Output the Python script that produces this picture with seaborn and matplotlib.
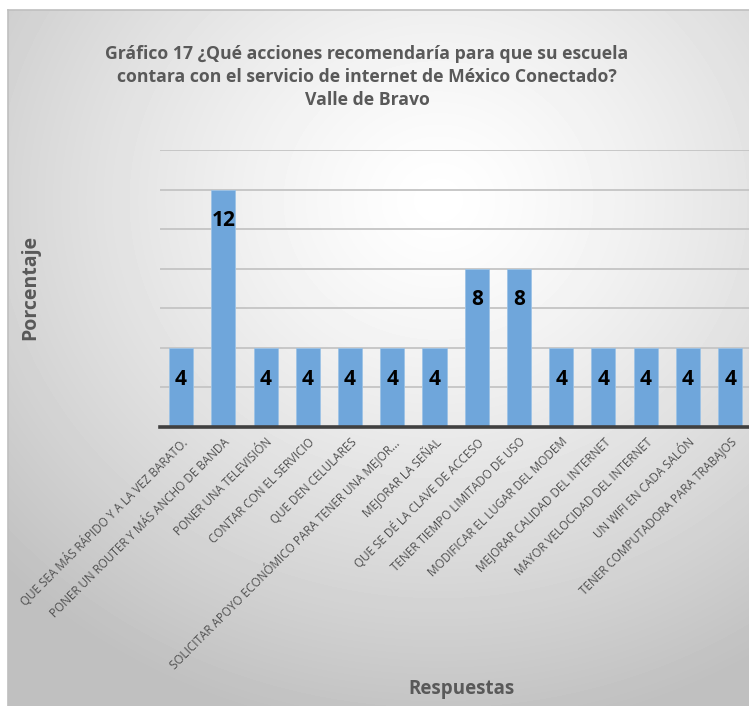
import numpy as np
import pandas as pd
import matplotlib.pyplot as plt
import seaborn as sns

respuestas = [
    "QUE SEA MÁS RÁPIDO Y A LA VEZ BARATO.",
    "PONER UN ROUTER Y MÁS ANCHO DE BANDA",
    "PONER UNA TELEVISIÓN",
    "CONTAR CON EL SERVICIO",
    "QUE DEN CELULARES",
    "SOLICITAR APOYO ECONÓMICO PARA TENER UNA MEJOR...",
    "MEJORAR LA SEÑAL",
    "QUE SE DÉ LA CLAVE DE ACCESO",
    "TENER TIEMPO LIMITADO DE USO",
    "MODIFICAR EL LUGAR DEL MODEM",
    "MEJORAR CALIDAD DEL INTERNET",
    "MAYOR VELOCIDAD DEL INTERNET",
    "UN WIFI EN CADA SALÓN",
    "TENER COMPUTADORA PARA TRABAJOS",
]
porcentaje = [4, 12, 4, 4, 4, 4, 4, 8, 8, 4, 4, 4, 4, 4]

titulo = ("Gráfico 17 ¿Qué acciones recomendaría para que su escuela\n"
          "contara con el servicio de internet de México Conectado?\n"
          "Valle de Bravo")

df = pd.DataFrame({"respuesta": respuestas, "valor": porcentaje})

sns.set_style("white")
plt.rcParams['font.family'] = ['Open Sans', 'DejaVu Sans']

W, H = 749, 706
fig = plt.figure(figsize=(W / 100, H / 100), dpi=100)
fig.patch.set_facecolor("white")

# fondo degradado del area del grafico
bg = fig.add_axes([8 / W, 0, 1 - 8 / W, (H - 10) / H], zorder=0)
yy, xx = np.mgrid[0:696, 0:741]
r = np.hypot((xx - 430) / 600, (yy - 190) / 540)
shade = 1 - 0.25 * np.clip(r, 0, 1) ** 1.3
bg.imshow(shade, cmap="gray", vmin=0, vmax=1, aspect="auto", interpolation="bilinear")
bg.set_xticks([])
bg.set_yticks([])
for s in ["right", "bottom"]:
    bg.spines[s].set_visible(False)
for s in ["left", "top"]:
    bg.spines[s].set_color("#BFBFBF")
    bg.spines[s].set_linewidth(1.2)

ax = fig.add_axes([160 / W, (H - 427) / H, (W - 160) / W + 0.003, (427 - 150) / H], zorder=1)
ax.set_facecolor("none")
sns.barplot(data=df, x="respuesta", y="valor", color="#6FA6DB", width=0.57,
            saturation=1, edgecolor="#9DC3E6", linewidth=0.6, ax=ax, zorder=3)

ax.set_ylim(0, 14)
ax.set_yticks(range(0, 15, 2))
ax.set_yticklabels([])
ax.set_xlim(-0.5, 13.5)
ax.grid(axis="y", color="#C4C4C4", linewidth=1.3)
ax.tick_params(axis="both", length=0)
ax.tick_params(axis="x", pad=6)
ax.set_xticks(range(len(respuestas)))
ax.set_xticklabels(respuestas, rotation=45, ha="right", rotation_mode="anchor",
                   fontsize=8.4, color="#505050")
ax.set_xlabel("")
ax.set_ylabel("")
for s in ["left", "right", "top"]:
    ax.spines[s].set_visible(False)
ax.spines["bottom"].set_color("#404040")
ax.spines["bottom"].set_linewidth(2.6)
ax.spines["bottom"].set_zorder(4)

for c in ax.containers:
    ax.bar_label(c, labels=[str(v) for v in porcentaje], padding=-30,
                 fontsize=15, fontweight="bold", color="black")

fig.text(367 / W, 1 - 77 / H, titulo, ha="center", va="center", fontsize=12.7,
         fontweight="bold", color="#595959", linespacing=1.35)
fig.text(30 / W, 1 - 287 / H, "Porcentaje", rotation=90, ha="center", va="center",
         fontsize=14, fontweight="bold", color="#595959")
fig.text(462 / W, 1 - 689 / H, "Respuestas", ha="center", va="center",
         fontsize=13.5, fontweight="bold", color="#595959")

fig.savefig("out.png", dpi=100)
